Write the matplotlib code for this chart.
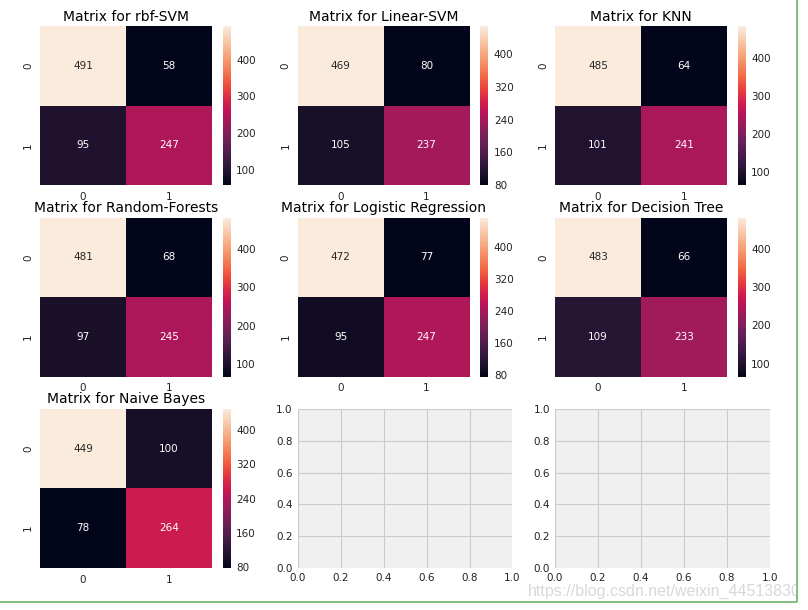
import matplotlib
matplotlib.use("Agg")
import matplotlib.pyplot as plt
from matplotlib.lines import Line2D
from matplotlib.patches import Rectangle
import seaborn as sns
import numpy as np

model_names = ["rbf-SVM", "Linear-SVM", "KNN", "Random-Forests",
               "Logistic Regression", "Decision Tree", "Naive Bayes"]
matrices = [
    [[491, 58], [95, 247]],
    [[469, 80], [105, 237]],
    [[485, 64], [101, 241]],
    [[481, 68], [97, 245]],
    [[472, 77], [95, 247]],
    [[483, 66], [109, 233]],
    [[449, 100], [78, 264]],
]
cbar_ticks = [
    [100, 200, 300, 400],
    [80, 160, 240, 320, 400],
    [100, 200, 300, 400],
    [100, 200, 300, 400],
    [80, 160, 240, 320, 400],
    [100, 200, 300, 400],
    [80, 160, 240, 320, 400],
]
empty_ticks = [0.0, 0.2, 0.4, 0.6, 0.8, 1.0]

plt.style.use('fivethirtyeight')
plt.rcParams['font.family'] = ['DejaVu Sans']
plt.rcParams['figure.facecolor'] = 'white'
plt.rcParams['savefig.facecolor'] = 'white'

fig, axes = plt.subplots(3, 3, figsize=(8.08, 6.1), dpi=100)
plt.subplots_adjust(left=0.0495, right=0.953, bottom=0.069, top=0.957,
                    wspace=0.198, hspace=0.204)

for i, ax in enumerate(axes.flat):
    if i < len(matrices):
        sns.heatmap(np.array(matrices[i]), ax=ax, annot=True, fmt='2.0f',
                    annot_kws={'fontsize': 7.5},
                    cbar_kws={'ticks': cbar_ticks[i]})
        ax.grid(False)
        ax.set_title('Matrix for ' + model_names[i], fontsize=10, pad=4)
        ax.tick_params(axis='both', length=0, pad=5, labelsize=7.5, colors='#222222')
        ax.set_yticklabels(ax.get_yticklabels(), rotation=90, va='center')
        cb = ax.collections[0].colorbar
        cb.outline.set_visible(False)
        cb.ax.tick_params(length=0, pad=4, labelsize=7.5, colors='#222222')
        cb.ax.grid(False)
    else:
        ax.set_xlim(0, 1)
        ax.set_ylim(0, 1)
        ax.set_xticks(empty_ticks)
        ax.set_yticks(empty_ticks)
        ax.tick_params(length=0, labelsize=7.5, colors='#222222')
        ax.grid(True, color='#cbcbcb', linewidth=0.8)
        for s in ax.spines.values():
            s.set_visible(False)

fig.text(0.991, 0.018, 'https://blog.csdn.net/weixin_44513830', ha='right',
         va='bottom', fontsize=11.5, color='#d8d8d8', family='Liberation Sans')

# screenshot frame at the right and bottom edge
fig.patches.append(Rectangle((0.9868, 0), 0.02, 1, transform=fig.transFigure,
                             facecolor='white', edgecolor='none', zorder=20))
fig.patches.append(Rectangle((0, 0), 1, 0.0131, transform=fig.transFigure,
                             facecolor='white', edgecolor='none', zorder=20))
fig.lines.append(Line2D([0.9864, 0.9864], [0.0131, 1], transform=fig.transFigure,
                        color='#6ab46a', linewidth=1.2, zorder=21))
fig.lines.append(Line2D([0, 0.9864], [0.0131, 0.0131], transform=fig.transFigure,
                        color='#6ab46a', linewidth=1.2, zorder=21))

fig.savefig('out.png', dpi=100)
